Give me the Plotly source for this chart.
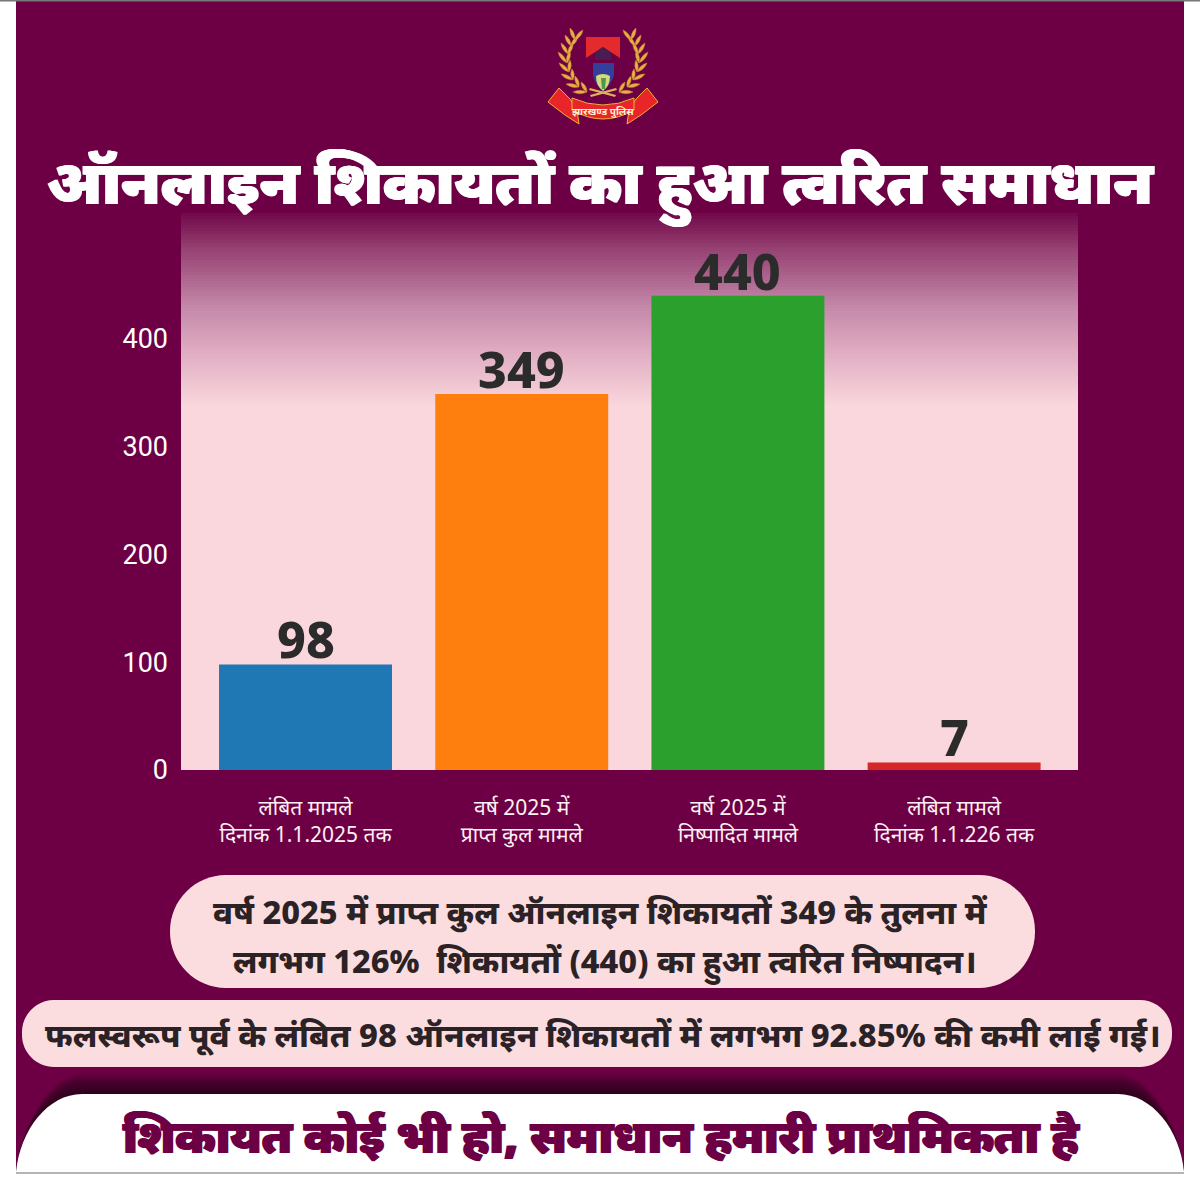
import plotly.graph_objects as go

# Chart data
categories = ["लंबित मामले<br>दिनांक 1.1.2025 तक", "वर्ष 2025 में<br>प्राप्त कुल मामले",
              "वर्ष 2025 में<br>निष्पादित मामले", "लंबित मामले<br>दिनांक 1.1.226 तक"]
values = [98, 349, 440, 7]
bar_colors = ["#1f77b4", "#ff7f0e", "#2ca02c", "#d62728"]
y_ticks = [0, 100, 200, 300, 400]

TITLE = "ऑनलाइन शिकायतों का हुआ त्वरित समाधान"
NOTE_1 = "वर्ष 2025 में प्राप्त कुल ऑनलाइन शिकायतों 349 के तुलना में"
NOTE_2 = "लगभग 126%  शिकायतों (440) का हुआ त्वरित निष्पादन।"
NOTE_3 = "फलस्वरूप पूर्व के लंबित 98 ऑनलाइन शिकायतों में लगभग 92.85% की कमी लाई गई।"
FOOTER = "शिकायत कोई भी हो, समाधान हमारी प्राथमिकता है"

W, H = 1200, 1185
MAROON = "#6d0044"
PINK = "#fad7dd"
SANS = "Noto Sans, sans-serif"
GOLD = "#e6ae45"
CX = 603

# Stops of the fade at the top of the plot panel: page y, colour
FADE = [(213, "#720a4b"), (248, "#964272"), (305, "#c488a9"), (355, "#e2b0c4"), (405, PINK)]


def px(x, y):
    return f"{x / W:.5f},{1 - y / H:.5f}"


def rect(x0, y0, x1, y1, color, layer="below", opacity=1):
    return dict(type="rect", xref="paper", yref="paper", x0=x0 / W, x1=x1 / W,
                y0=1 - y0 / H, y1=1 - y1 / H, fillcolor=color, opacity=opacity,
                line_width=0, layer=layer)


def path(cmds, color, layer="above", line=None, lw=0, opacity=1):
    parts = []
    for c in cmds:
        parts.append(c[0] + " ".join(px(c[i], c[i + 1]) for i in range(1, len(c), 2)))
    return dict(type="path", xref="paper", yref="paper", path=" ".join(parts) + " Z",
                fillcolor=color, line=dict(color=line or color, width=lw), opacity=opacity, layer=layer)


def pill(x0, y0, x1, y1, r, color):
    k = 0.45 * r
    return path([("M", x0 + r, y0), ("L", x1 - r, y0),
                 ("C", x1 - k, y0, x1, y0 + k, x1, y0 + r), ("L", x1, y1 - r),
                 ("C", x1, y1 - k, x1 - k, y1, x1 - r, y1), ("L", x0 + r, y1),
                 ("C", x0 + k, y1, x0, y1 - k, x0, y1 - r), ("L", x0, y0 + r),
                 ("C", x0, y0 + k, x0 + k, y0, x0 + r, y0)], color, layer="below")


def mix(a, b, t):
    ca = [int(a[i:i + 2], 16) for i in (1, 3, 5)]
    cb = [int(b[i:i + 2], 16) for i in (1, 3, 5)]
    return "#" + "".join(f"{round(p + (q - p) * t):02x}" for p, q in zip(ca, cb))


shapes = [rect(0, 0, W, H, "#ffffff"), rect(16, 1, 1184, 1172, MAROON), rect(0, 0, W, 1.5, "#777777")]

# Plot panel fading from the page colour to pink
shapes.append(rect(181, 404, 1078, 770, PINK))
for (y0, c0), (y1, c1) in zip(FADE, FADE[1:]):
    for y in range(y0, y1, 3):
        shapes.append(rect(181, y, 1078, min(y + 3, y1), mix(c0, c1, (y - y0) / (y1 - y0))))

# Note pills
shapes.append(pill(170, 875, 1035, 988, 56, "#fbdde0"))
shapes.append(pill(22, 1000, 1172, 1067, 32, "#fbdde0"))


def footer_panel(grow, color, opacity=1):
    t = 1094 - grow
    return path([("M", 16, 1172), ("C", 20, 1130, 48, t, 82, t), ("L", 1118, t),
                 ("C", 1152, t, 1180, 1130, 1184, 1172)], color, layer="below", opacity=opacity)


# Shadow above the footer panel, then the panel itself
for g in range(20, 0, -2):
    shapes.append(footer_panel(g, "#1e0012", opacity=0.11))
shapes.append(rect(16, 1171, 1184, 1174, "#b5b5b5"))
shapes.append(footer_panel(0, "#ffffff"))


# Police crest, drawn from offsets around its vertical axis
def crest(points):
    return [(c[0], *[v for i in range(1, len(c), 2) for v in (CX + c[i], c[i + 1])]) for c in points]


def mirror(points):
    return [(c[0], *[v for i in range(1, len(c), 2) for v in (CX - c[i], c[i + 1])]) for c in points]


def leaf(x0, y0, x1, y1, w):
    dx, dy = x1 - x0, y1 - y0
    n = (dx * dx + dy * dy) ** 0.5
    ox, oy = -dy / n * w, dx / n * w
    mx, my = (x0 + x1) / 2, (y0 + y1) / 2
    return [("M", x0, y0), ("Q", mx + ox, my + oy, x1, y1), ("Q", mx - ox, my - oy, x0, y0)]


outer_leaves = [(-16, 92, -30, 92), (-24, 87, -37, 84), (-30, 80, -42, 74), (-34, 72, -44, 63),
                (-36, 63, -45, 52), (-35, 54, -42, 43), (-32, 46, -38, 35), (-28, 40, -33, 28)]
inner_leaves = [(-16, 92, -22, 82), (-24, 87, -28, 76), (-30, 80, -31, 69), (-34, 72, -33, 60),
                (-36, 63, -33, 51), (-35, 54, -30, 43), (-32, 46, -25, 36), (-28, 40, -20, 30)]
for spots in (outer_leaves, inner_leaves):
    for s in spots:
        for side in (crest, mirror):
            shapes.append(path(side(leaf(*s, 3.4)), GOLD, line="#c08a2a", lw=0.5))

shapes.append(path(crest([("M", -17, 37), ("L", 17, 37), ("L", 17, 58), ("L", 0, 47), ("L", -17, 58)]), "#e32b2e"))
shapes.append(path(crest([("M", -8, 53), ("L", 0, 47), ("L", 8, 53), ("L", 8, 60), ("L", -8, 60)]), "#4a1c52"))
shapes.append(path(crest([("M", -10, 63), ("L", 11, 63), ("L", 11, 75), ("Q", 8, 85, 0, 91), ("Q", -8, 85, -10, 75)]), "#32409b"))
shapes.append(path(crest([("M", -7, 76), ("Q", 0, 72, 7, 76), ("Q", 7, 86, 0, 91), ("Q", -7, 86, -7, 76)]), "#d9d77a"))
shapes.append(path(crest([("M", -2, 78), ("L", 3, 78), ("L", 2, 89), ("L", -1, 89)]), "#4a9a4c"))
for side in (mirror, crest):
    tail = [("M", -33, 99), ("L", -44, 88), ("L", -55, 102), ("L", -38, 115), ("L", -24, 124), ("L", -26, 110)]
    shapes.append(path(side(tail), "#e8262a", line="#efb233", lw=1))
shapes.append(path(crest([("M", -31, 98), ("Q", 0, 112, 31, 98), ("L", 31, 110), ("Q", 0, 128, -31, 110)]), "#e8262a", line="#efb233", lw=1))
band = [("M", -13, 88), ("L", 13, 95), ("L", 12, 97), ("L", -14, 90)]
shapes.append(path(crest(band), "#d9b35a"))
shapes.append(path(mirror(band), "#d9b35a"))


def note(text, x, y, size, color, weight=800, shadow=None):
    return dict(text=text, xref="paper", yref="paper", x=x / W, y=1 - y / H, xanchor="center", yanchor="middle",
                showarrow=False, font=dict(family=SANS, size=size, color=color, weight=weight,
                                           shadow=shadow or "none"))


annotations = [
    note(TITLE, 600, 183, 60.5, "#ffffff", 900, "1px 0 0 #ffffff, -1px 0 0 #ffffff"),
    note(NOTE_1, 600, 911, 32.5, "#2b2226", 800),
    note(NOTE_2, 604, 961, 32.5, "#2b2226", 800),
    note(NOTE_3, 602, 1034, 32.7, "#2b2226", 800),
    note(FOOTER, 601, 1135, 46.5, "#6d0044", 900, "1px 0 0 #6d0044, -1px 0 0 #6d0044"),
    note("झारखण्ड पुलिस", 603, 111, 10, "#fff3d0", 700),
]

# Value labels sit on top of each bar, anchored at the bar's value
for i, v in enumerate(values):
    annotations.append(dict(x=i, y=v, xref="x", yref="y", text=str(v), showarrow=False,
                            xanchor="center", yanchor="bottom", yshift=-11,
                            font=dict(family=SANS, size=50, color="#2b2b2b", weight=800)))

fig = go.Figure(go.Bar(
    x=[0, 1, 2, 3], y=values, width=0.8, marker=dict(color=bar_colors, line_width=0),
    hoverinfo="skip",
))

fig.update_layout(
    width=W, height=H, margin=dict(l=0, r=0, t=0, b=0), autosize=False,
    paper_bgcolor="#ffffff", plot_bgcolor="rgba(0,0,0,0)", showlegend=False,
    shapes=shapes, annotations=annotations,
    xaxis=dict(domain=[181 / W, 1078 / W], range=[-0.576, 3.573], tickmode="array", tickvals=[0, 1, 2, 3],
               ticktext=categories, showgrid=False, zeroline=False, showline=False, ticks="",
               automargin=False, ticklabelstandoff=23, tickangle=0,
               tickfont=dict(family=SANS, size=21, color="#fdf0f3")),
    yaxis=dict(domain=[1 - 770 / H, 1 - 215 / H], range=[0, 515], tickmode="array", tickvals=y_ticks,
               showgrid=False, zeroline=False, showline=False, ticks="", automargin=False, ticklabelstandoff=12,
               tickfont=dict(family="Roboto, sans-serif", size=27, color="#ffffff", weight=400)),
)

fig.write_html("out.html")
